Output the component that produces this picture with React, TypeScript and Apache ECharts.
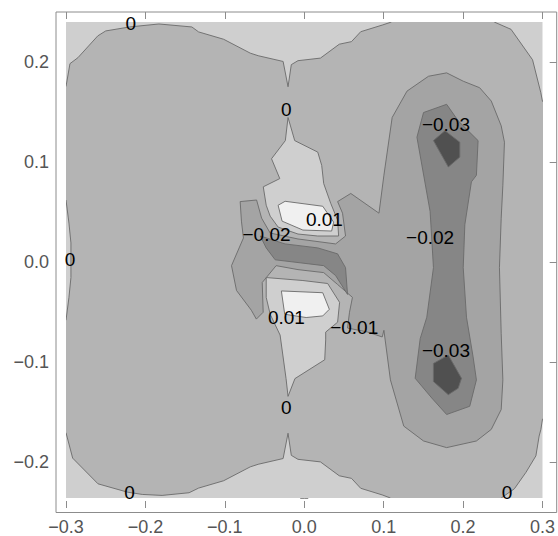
import React, { useEffect, useRef } from "react";
import * as echarts from "echarts";

type Pt = [number, number];

// ---- axis ticks ----
const xTicks = [-0.3, -0.2, -0.1, 0, 0.1, 0.2, 0.3];
const xTickLabels = ["\u22120.3", "\u22120.2", "\u22120.1", "0.0", "0.1", "0.2", "0.3"];
const yTicks = [-0.2, -0.1, 0, 0.1, 0.2];
const yTickLabels = ["\u22120.2", "\u22120.1", "0.0", "0.1", "0.2"];

// ---- plot range ----
const xRange: Pt = [-0.3, 0.3];
const yRange: Pt = [-0.24, 0.24];
const yMajorRange: Pt = [-0.2, 0.2];

// ---- contour regions (data coordinates) ----
const fullRange: Pt[] = [[-0.3, -0.24], [0.3, -0.24], [0.3, 0.24], [-0.3, 0.24]];

// region where value < 0
const belowZero: Pt[] = [
  [-0.295, 0.198], [-0.285, 0.204], [-0.26, 0.226], [-0.25, 0.231], [-0.22, 0.235], [-0.183, 0.238],
  [-0.1415, 0.235], [-0.133, 0.23], [-0.1015, 0.2226], [-0.068, 0.2086], [-0.058, 0.206], [-0.0266, 0.2002],
  [-0.0204, 0.1747], [-0.0163, 0.197], [-0.0079, 0.201], [0.0204, 0.2036], [0.0441, 0.2176], [0.0595, 0.2202],
  [0.0711, 0.2302], [0.0982, 0.2369], [0.1098, 0.24], [0.1098, 0.245], [0.2392, 0.245], [0.2392, 0.24],
  [0.2604, 0.2326], [0.2875, 0.2019], [0.2979, 0.1687], [0.3, 0.16], [0.305, 0.16], [0.305, -0.1605],
  [0.3, -0.1605], [0.298, -0.1708], [0.2958, -0.1775], [0.2917, -0.1975], [0.2792, -0.2141], [0.2646, -0.2307],
  [0.248, -0.24], [0.248, -0.245], [0.1085, -0.245], [0.1085, -0.24], [0.0982, -0.2369], [0.0711, -0.2302],
  [0.0595, -0.2202], [0.0441, -0.2176], [0.0204, -0.2036], [-0.0079, -0.201], [-0.0163, -0.197],
  [-0.0204, -0.1747], [-0.0266, -0.2002], [-0.058, -0.206], [-0.068, -0.2086], [-0.1015, -0.2226],
  [-0.133, -0.23], [-0.145, -0.2347], [-0.179, -0.2374], [-0.204, -0.2364], [-0.2226, -0.2341],
  [-0.2597, -0.2257], [-0.2916, -0.1998], [-0.3, -0.1742], [-0.305, -0.1742], [-0.305, -0.0607],
  [-0.3, -0.0607], [-0.2963, -0.0377], [-0.2938, -0.0177], [-0.2938, 0.0], [-0.2938, 0.0172],
  [-0.2963, 0.0372], [-0.3, 0.0605], [-0.305, 0.0605], [-0.305, 0.175], [-0.3, 0.175],
];

// region where value < -0.01
const belowM001: Pt[] = [
  [-0.0807, 0.0589], [-0.06, 0.0605], [-0.0537, 0.0422], [-0.0429, 0.0272], [-0.0079, 0.0212],
  [0.0395, 0.0162], [0.052, 0.0242], [0.0482, 0.0472], [0.042, 0.0589], [0.0586, 0.0671], [0.0941, 0.0472],
  [0.1003, 0.0854], [0.1107, 0.1437], [0.1294, 0.1703], [0.1565, 0.1853], [0.1793, 0.1887], [0.2002, 0.1803],
  [0.2209, 0.1737], [0.2355, 0.1603], [0.248, 0.1353], [0.2521, 0.1188], [0.2501, 0.0754], [0.248, 0.0422],
  [0.2458, -0.0077], [0.248, -0.0743], [0.2501, -0.1209], [0.248, -0.1508], [0.2355, -0.1708],
  [0.2168, -0.1825], [0.1793, -0.1892], [0.1502, -0.1825], [0.1253, -0.1675], [0.1085, -0.1209],
  [0.1003, -0.0709], [0.0982, -0.0776], [0.0795, -0.0726], [0.0545, -0.0686], [0.057, -0.0527],
  [0.0607, -0.0377], [0.042, -0.0247], [0.0245, -0.0127], [-0.0079, -0.0097], [-0.0354, -0.0057],
  [-0.0529, -0.0227], [-0.0517, -0.0527], [-0.0603, -0.0596], [-0.0666, -0.0507], [-0.0853, -0.0307],
  [-0.0916, -0.0057], [-0.0766, 0.0222], [-0.0791, 0.0392],
];

// regions where value < -0.02
const belowM002Center: Pt[] = [
  [-0.0554, 0.0242], [-0.0241, 0.0162], [0.017, 0.0122], [0.042, 0.0062], [0.052, -0.0077],
  [0.0545, -0.0347], [0.0395, -0.0157], [0.0245, -0.0057], [-0.0366, 0.0002], [-0.0479, 0.0122],
];
const belowM002Right: Pt[] = [
  [0.1502, 0.1487], [0.1793, 0.157], [0.1939, 0.1403], [0.2189, 0.1204], [0.2168, 0.0854], [0.2105, 0.0788],
  [0.2022, 0.0355], [0.2002, -0.0077], [0.2043, -0.0577], [0.2126, -0.0976], [0.2168, -0.1209],
  [0.2084, -0.1475], [0.1793, -0.1558], [0.1606, -0.1392], [0.1397, -0.1193], [0.146, -0.0793],
  [0.1543, -0.0577], [0.1627, -0.0077], [0.1585, 0.0489], [0.1419, 0.1238],
];

// regions where value < -0.03
const belowM003Upper: Pt[] = [
  [0.1627, 0.1204], [0.1772, 0.1304], [0.1959, 0.1188], [0.1959, 0.1038], [0.1814, 0.0938],
];
const belowM003Lower: Pt[] = [
  [0.1627, -0.1043], [0.1814, -0.0959], [0.198, -0.1193], [0.1939, -0.1293], [0.1814, -0.1358], [0.1627, -0.1226],
];

// regions where value > 0 (centre)
const aboveZeroUpper: Pt[] = [
  [-0.0204, 0.1437], [-0.012, 0.1204], [0.017, 0.1088], [0.022, 0.0954], [0.0245, 0.0771], [0.0333, 0.0572],
  [0.042, 0.0402], [0.0433, 0.0242], [0.017, 0.0242], [-0.0079, 0.0262], [-0.0329, 0.0332], [-0.0429, 0.0442],
  [-0.0479, 0.0552], [-0.0516, 0.0738], [-0.0308, 0.0821], [-0.0412, 0.1021], [-0.0238, 0.1204],
];
const aboveZeroLower: Pt[] = [
  [-0.0479, -0.0177], [-0.0017, -0.0207], [0.0295, -0.0237], [0.0445, -0.0427], [0.042, -0.0627],
  [0.027, -0.0727], [0.027, -0.0806], [0.0258, -0.1006], [-0.0117, -0.1196], [-0.0204, -0.1375],
  [-0.0229, -0.1196], [-0.0304, -0.0757], [-0.0429, -0.0547], [-0.0479, -0.0377],
];

// regions where value > 0.01
const aboveP001Upper: Pt[] = [
  [-0.0329, 0.0552], [-0.0241, 0.0592], [0.0233, 0.0542], [0.037, 0.0382], [0.0345, 0.0292],
  [-0.0017, 0.0302], [-0.0279, 0.0392],
];
const aboveP001Lower: Pt[] = [
  [-0.0288, -0.0312], [0.0233, -0.033], [0.0316, -0.0497], [0.0233, -0.0564], [0.0024, -0.058], [-0.0246, -0.0547],
];

// ---- contour labels ----
const contourLabelText = [
  "0", "0", "0", "0", "0", "0",
  "0.01", "0.01",
  "\u22120.02", "\u22120.02",
  "\u22120.03", "\u22120.03",
  "\u22120.01",
];
const contourLabelPos: Pt[] = [
  [-0.2184, 0.2386], [-0.0225, 0.152], [-0.295, 0.0005], [-0.0225, -0.1492], [-0.2201, -0.2341], [0.2554, -0.2347],
  [0.0254, 0.0412], [-0.0225, -0.0577],
  [-0.0475, 0.0262], [0.1585, 0.0222],
  [0.1784, 0.137], [0.1784, -0.0909],
  [0.0629, -0.0676],
];

// ---- styles ----
const C_POS = "#cfcfcf";
const C_WHITE = "#f0f0f0";
const C_N0 = "#b4b4b4";
const C_N1 = "#a4a4a4";
const C_N2 = "#868686";
const C_N3 = "#505050";
const LINE = "#6a6a6a";
const AXIS = "#8c8c8c";
const TICK_TEXT = "#555555";
const FONT = "'Liberation Sans', Arial, sans-serif";

const GRID_L = 66;
const GRID_T = 22;
const GRID_W = 480.7;
const GRID_H = 480.5;
const PAD = 10;

function fmt(ticks: number[], labels: string[]) {
  return (v: number) => {
    for (let i = 0; i < ticks.length; i++) if (Math.abs(ticks[i] - v) < 1e-6) return labels[i];
    return "";
  };
}

function polySeries(pts: Pt[], fill: string, stroke: boolean) {
  return {
    type: "custom",
    coordinateSystem: "cartesian2d",
    xAxisIndex: 0,
    yAxisIndex: 0,
    clip: true,
    silent: true,
    data: [[0, 0]],
    renderItem: (_params: any, api: any) => ({
      type: "polygon",
      shape: { points: pts.map((p) => api.coord(p)) },
      style: {
        fill,
        stroke: stroke ? LINE : "none",
        lineWidth: 0.9,
        lineJoin: "round",
      },
    }),
  };
}

export default function App() {
  const ref = useRef<HTMLDivElement>(null);

  useEffect(() => {
    if (!ref.current) return;
    const chart = echarts.init(ref.current, null, { renderer: "svg" });

    const minorAxisCommon = {
      type: "value",
      axisLine: { show: false },
      axisLabel: { show: false },
      splitLine: { show: false },
      axisTick: { show: true, inside: true, length: 4, lineStyle: { color: AXIS, width: 1 } },
    };
    const majorTick = { show: true, inside: true, length: 7, lineStyle: { color: AXIS, width: 1 } };
    const labelFont = { color: TICK_TEXT, fontSize: 18, fontFamily: FONT };

    const grid1Top = GRID_T + ((yRange[1] - yMajorRange[1]) / (yRange[1] - yRange[0])) * GRID_H;
    const grid1H = ((yMajorRange[1] - yMajorRange[0]) / (yRange[1] - yRange[0])) * GRID_H;

    const option: any = {
      animation: false,
      backgroundColor: "#ffffff",
      grid: [
        { left: GRID_L, top: GRID_T, width: GRID_W, height: GRID_H },
        { left: GRID_L, top: grid1Top, width: GRID_W, height: grid1H },
      ],
      xAxis: [
        { ...minorAxisCommon, gridIndex: 0, min: xRange[0], max: xRange[1], interval: 0.02, position: "bottom", offset: PAD },
        { ...minorAxisCommon, gridIndex: 0, min: xRange[0], max: xRange[1], interval: 0.02, position: "top", offset: PAD },
        {
          type: "value", gridIndex: 0, min: xRange[0], max: xRange[1], interval: 0.1, position: "bottom", offset: PAD,
          axisLine: { show: false }, splitLine: { show: false }, axisTick: majorTick,
          axisLabel: { show: true, margin: 10, formatter: fmt(xTicks, xTickLabels), ...labelFont },
        },
        {
          type: "value", gridIndex: 0, min: xRange[0], max: xRange[1], interval: 0.1, position: "top", offset: PAD,
          axisLine: { show: false }, splitLine: { show: false }, axisTick: majorTick, axisLabel: { show: false },
        },
        { type: "value", gridIndex: 1, show: false, min: xRange[0], max: xRange[1] },
      ],
      yAxis: [
        { ...minorAxisCommon, gridIndex: 0, min: yRange[0], max: yRange[1], interval: 0.02, position: "left", offset: PAD },
        { ...minorAxisCommon, gridIndex: 0, min: yRange[0], max: yRange[1], interval: 0.02, position: "right", offset: PAD },
        {
          type: "value", gridIndex: 1, min: yMajorRange[0], max: yMajorRange[1], interval: 0.1, position: "left", offset: PAD,
          axisLine: { show: false }, splitLine: { show: false }, axisTick: majorTick,
          axisLabel: { show: true, margin: 7, formatter: fmt(yTicks, yTickLabels), ...labelFont },
        },
        {
          type: "value", gridIndex: 1, min: yMajorRange[0], max: yMajorRange[1], interval: 0.1, position: "right", offset: PAD,
          axisLine: { show: false }, splitLine: { show: false }, axisTick: majorTick, axisLabel: { show: false },
        },
      ],
      graphic: [
        {
          type: "rect",
          silent: true,
          shape: { x: GRID_L - PAD, y: GRID_T - PAD, width: GRID_W + 2 * PAD, height: GRID_H + 2 * PAD },
          style: { fill: "none", stroke: AXIS, lineWidth: 1 },
          z: 10,
        },
      ],
      series: [
        polySeries(fullRange, C_POS, false),
        polySeries(belowZero, C_N0, true),
        polySeries(belowM001, C_N1, true),
        polySeries(belowM002Center, C_N2, true),
        polySeries(belowM002Right, C_N2, true),
        polySeries(belowM003Upper, C_N3, true),
        polySeries(belowM003Lower, C_N3, true),
        polySeries(aboveZeroUpper, C_POS, true),
        polySeries(aboveZeroLower, C_POS, true),
        polySeries(aboveP001Upper, C_WHITE, true),
        polySeries(aboveP001Lower, C_WHITE, true),
        {
          type: "custom",
          coordinateSystem: "cartesian2d",
          xAxisIndex: 0,
          yAxisIndex: 0,
          clip: false,
          silent: true,
          z: 5,
          data: contourLabelPos.map((p) => [p[0], p[1]]),
          renderItem: (params: any, api: any) => {
            const c = api.coord([api.value(0), api.value(1)]);
            return {
              type: "text",
              x: c[0],
              y: c[1],
              style: {
                text: contourLabelText[params.dataIndex],
                fill: "#000000",
                fontSize: 19,
                fontFamily: FONT,
                align: "center",
                verticalAlign: "middle",
              },
            };
          },
        },
      ],
    };

    chart.setOption(option);
    return () => chart.dispose();
  }, []);

  return (
    <div
      ref={ref}
      style={{ position: "absolute", left: 0, top: 0, width: 558, height: 536, background: "#fff" }}
    />
  );
}
